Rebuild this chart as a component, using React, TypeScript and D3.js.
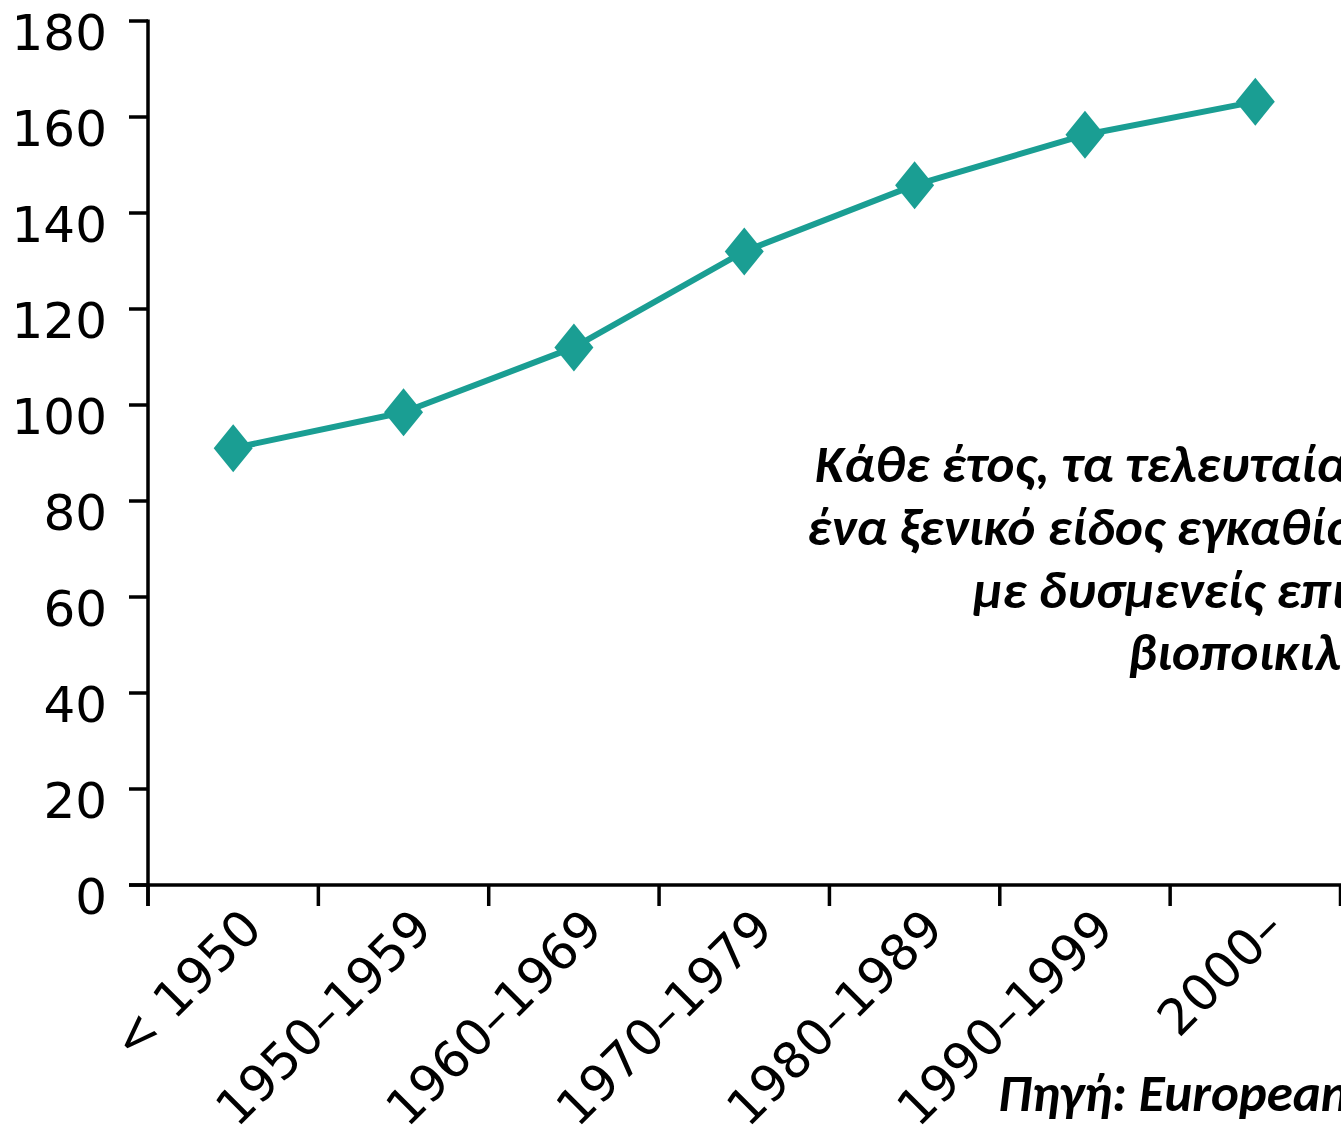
import React from "react";
import * as d3 from "d3";

const categories = ["< 1950", "1950–1959", "1960–1969", "1970–1979", "1980–1989", "1990–1999", "2000–"];
const values = [91, 98.5, 112, 132, 145.8, 156.3, 163.2];
const yTicks = [0, 20, 40, 60, 80, 100, 120, 140, 160, 180];
const noteLines = ["Κάθε έτος, τα τελευταία", "ένα ξενικό είδος εγκαθίσ", "με δυσμενείς επι", "βιοποικιλό"];
const sourceText = "Πηγή: European";

const W = 1341;
const H = 1130;
const left = 148;
const right = 1340.5;
const top = 21;
const bottom = 885;
const color = "#1a9e93";

export default function App() {
  const x = d3.scaleBand<string>().domain(categories).range([left, right]).padding(0);
  const y = d3.scaleLinear().domain([0, 180]).range([bottom, top]);
  const cx = (c: string) => (x(c) ?? 0) + x.bandwidth() / 2;
  const line = d3
    .line<number>()
    .x((_, i) => cx(categories[i]))
    .y((v) => y(v));
  const diamond = "M0,-24L19.5,0L0,24L-19.5,0Z";
  const tickEdges = categories.map((c) => x(c) ?? 0).concat([right]);
  const axisFont = "'DejaVu Sans', Verdana, sans-serif";
  const noteFont = "Carlito, Calibri, 'Open Sans', 'Noto Sans', sans-serif";
  const noteX = [815, 807, 973, 1128];
  const noteY = [482, 545, 608, 670];
  return (
    <svg width={W} height={H} style={{ position: "absolute", left: 0, top: 0, background: "#fff" }}>
      <rect x={0} y={0} width={W} height={H} fill="#fff" />
      {/* y axis */}
      <line x1={left} x2={left} y1={top - 1.5} y2={bottom + 21} stroke="#000" strokeWidth={3.5} />
      {yTicks.map((t) => (
        <g key={t}>
          <line x1={left - 19} x2={left} y1={y(t)} y2={y(t)} stroke="#000" strokeWidth={3.5} />
          <text
            x={107}
            y={y(t) + 11}
            dy="0.36em"
            textAnchor="end"
            fontFamily={axisFont}
            fontSize={50}
            fill="#000"
          >
            {t}
          </text>
        </g>
      ))}
      {/* x axis */}
      <line x1={left - 19} x2={W} y1={bottom} y2={bottom} stroke="#000" strokeWidth={3.5} />
      {tickEdges.map((e, i) => (
        <line key={i} x1={e} x2={e} y1={bottom} y2={bottom + 21} stroke="#000" strokeWidth={3.5} />
      ))}
      {categories.map((c) => (
        <text
          key={c}
          transform={`translate(${cx(c) + 31},${bottom + 46}) rotate(-45)`}
          textAnchor="end"
          fontFamily={axisFont}
          fontSize={50}
          fill="#000"
        >
          {c}
        </text>
      ))}
      {/* series */}
      <path d={line(values) ?? ""} fill="none" stroke={color} strokeWidth={6} strokeLinejoin="round" />
      {values.map((v, i) => (
        <path key={i} d={diamond} transform={`translate(${cx(categories[i])},${y(v)})`} fill={color} />
      ))}
      {/* annotation */}
      {noteLines.map((l, i) => (
        <text
          key={i}
          x={noteX[i]}
          y={noteY[i]}
          fontFamily={noteFont}
          fontStyle="italic"
          fontWeight={700}
          fontSize={53}
          fill="#000"
        >
          {l}
        </text>
      ))}
      <text x={998} y={1111} fontFamily={noteFont} fontStyle="italic" fontWeight={700} fontSize={53} fill="#000">
        {sourceText}
      </text>
    </svg>
  );
}
